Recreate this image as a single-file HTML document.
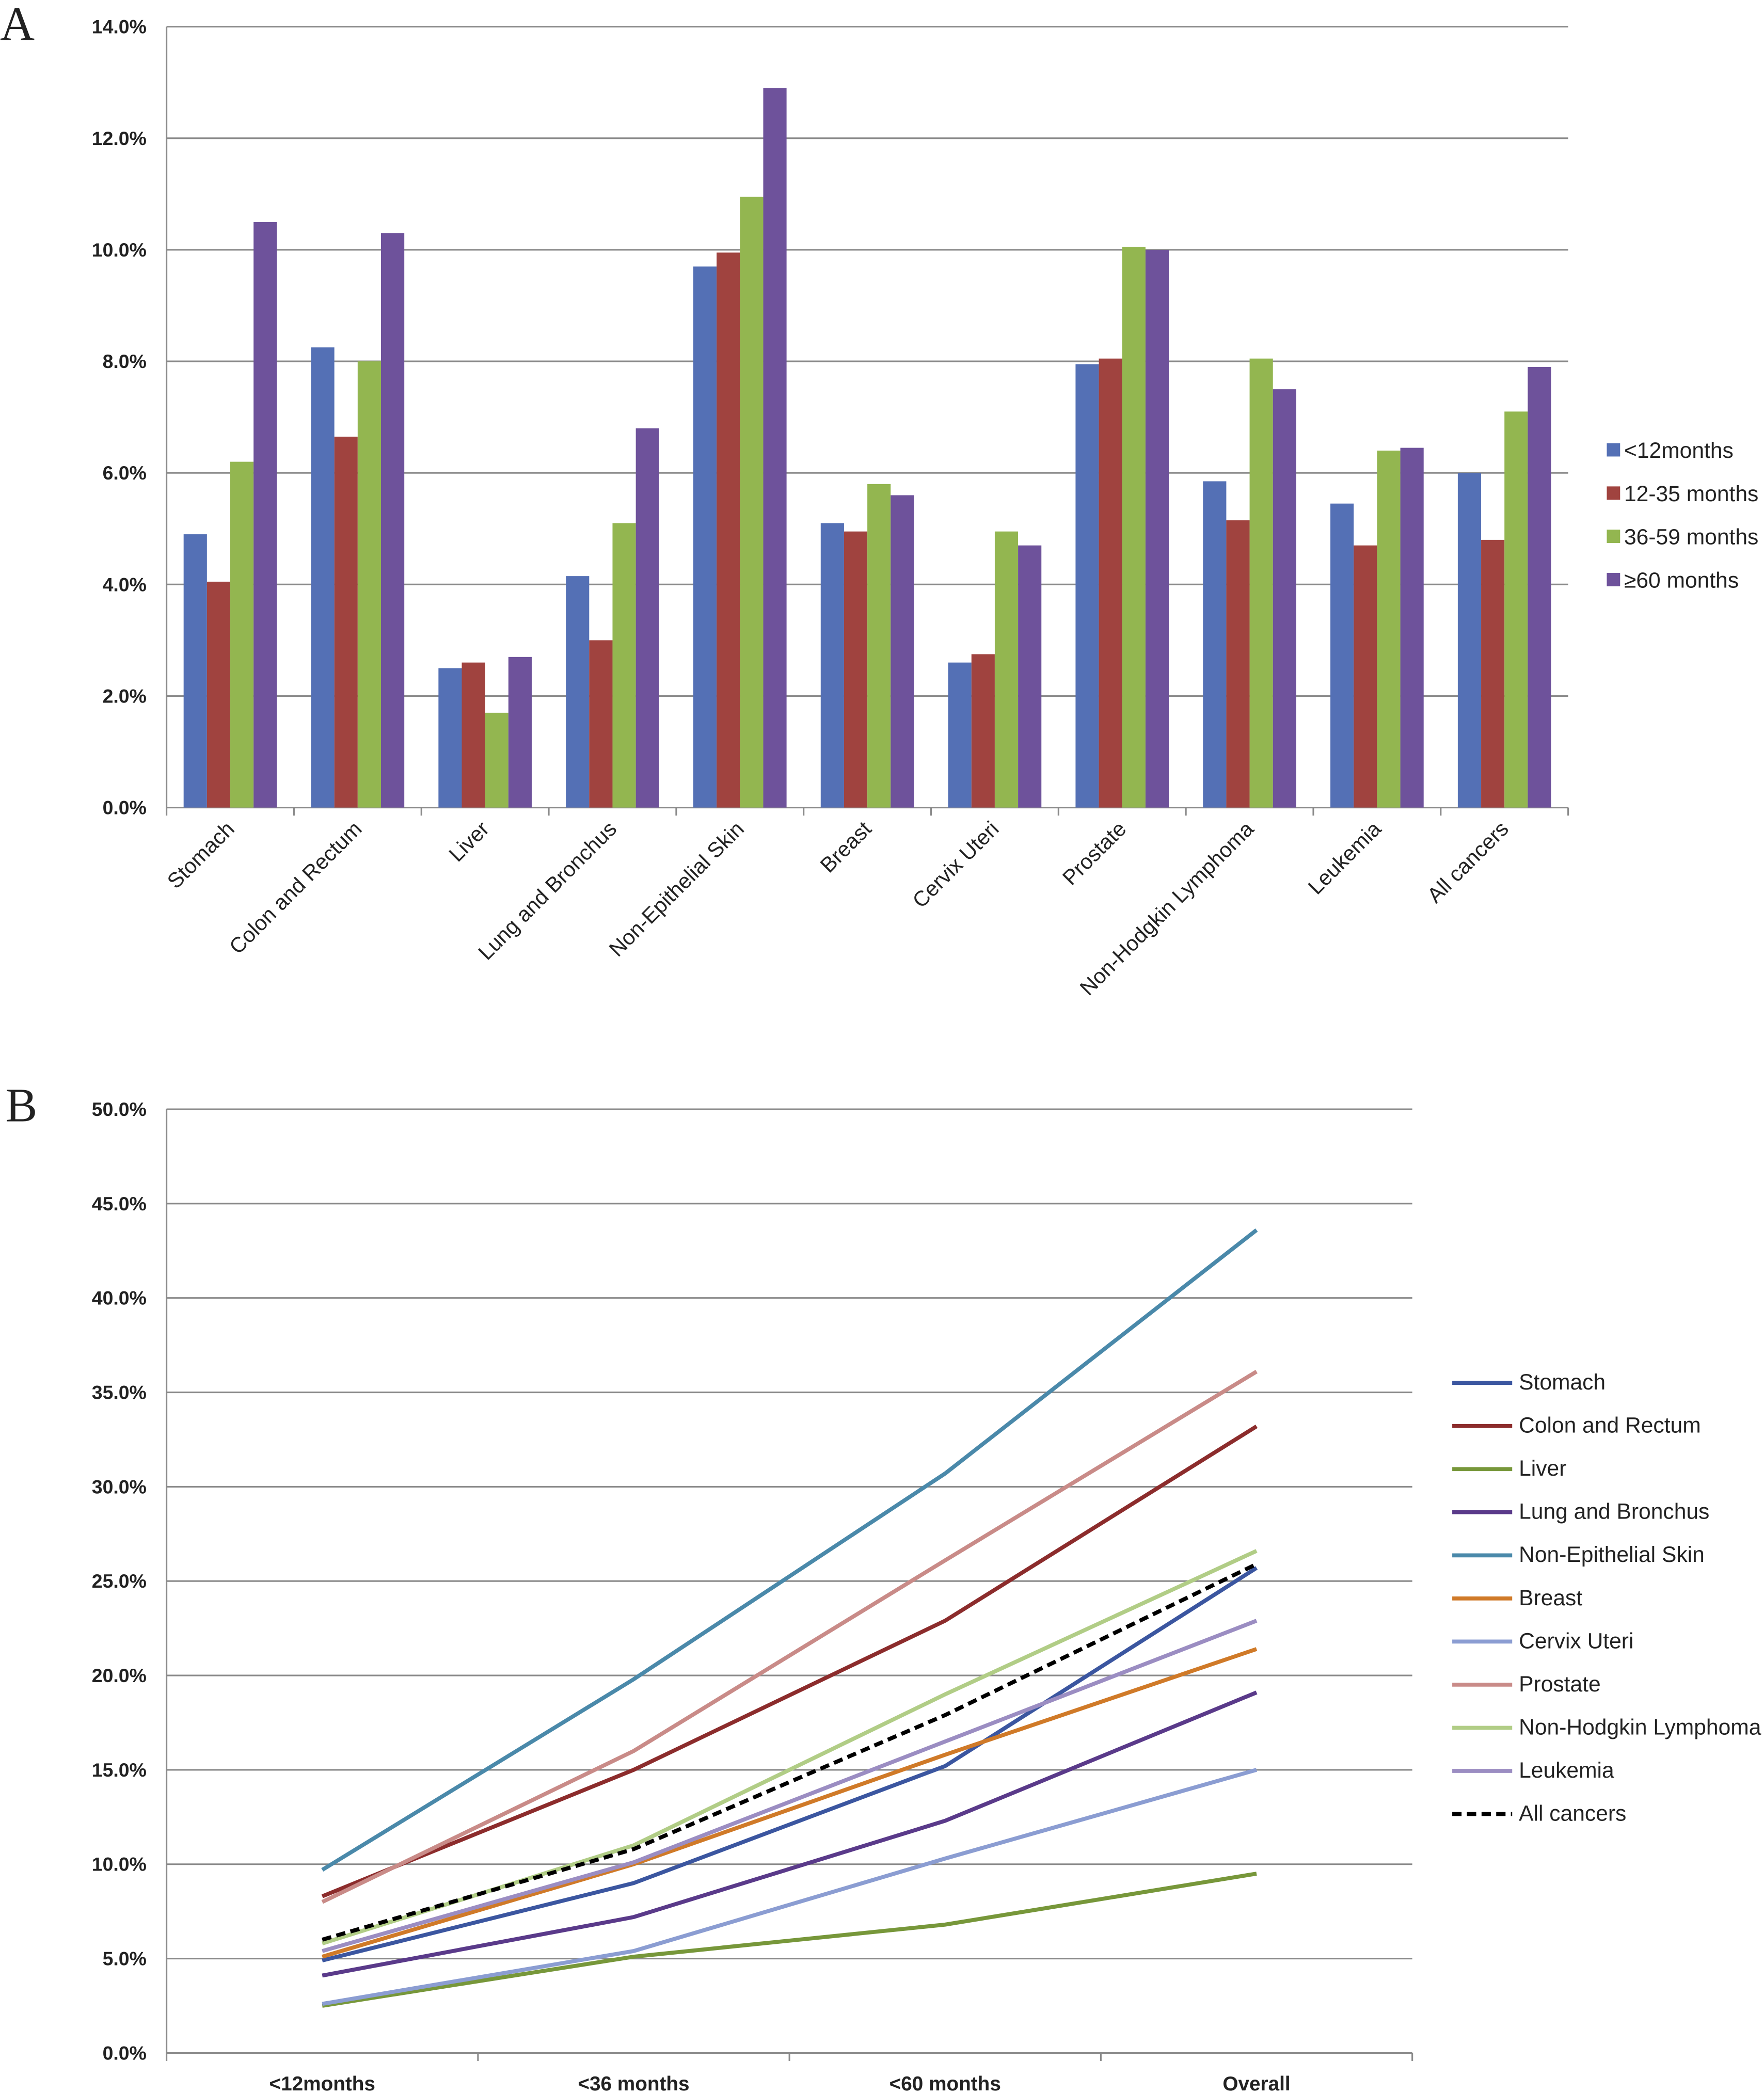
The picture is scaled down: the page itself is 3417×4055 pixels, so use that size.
<!DOCTYPE html>
<html><head><meta charset="utf-8"><style>
html,body{margin:0;padding:0;background:#fff;}
svg{display:block;}
text{font-family:"Liberation Sans",sans-serif;fill:#222;}
</style></head><body>
<svg id="root" width="3417" height="4055" viewBox="0 0 1324 1568" preserveAspectRatio="none" xmlns="http://www.w3.org/2000/svg">
<text x="0" y="30" style="font-family:'Liberation Serif',serif;font-size:36px">A</text>
<text x="4" y="840" style="font-family:'Liberation Serif',serif;font-size:36px">B</text>
<g id="chartA"></g>
<g id="chartB"></g>
</svg>
<script>
const NS="http://www.w3.org/2000/svg";
function mk(tag,attrs,parent,txt){const e=document.createElementNS(NS,tag);for(const k in attrs)e.setAttribute(k,attrs[k]);if(txt!==undefined)e.textContent=txt;parent.appendChild(e);return e;}

// Chart A data
const catsA=["Stomach","Colon and Rectum","Liver","Lung and Bronchus","Non-Epithelial Skin","Breast","Cervix Uteri","Prostate","Non-Hodgkin Lymphoma","Leukemia","All cancers"];
const seriesNamesA=["<12months","12-35 months","36-59 months","\u226560 months"];
const lt12=[4.9,8.25,2.5,4.15,9.7,5.1,2.6,7.95,5.85,5.45,6.0];
const m12_35=[4.05,6.65,2.6,3.0,9.95,4.95,2.75,8.05,5.15,4.7,4.8];
const m36_59=[6.2,8.0,1.7,5.1,10.95,5.8,4.95,10.05,8.05,6.4,7.1];
const ge60=[10.5,10.3,2.7,6.8,12.9,5.6,4.7,10.0,7.5,6.45,7.9];
const ticksA=[0,2,4,6,8,10,12,14];

// Chart B data
const catsB=["<12months","<36 months","<60 months","Overall"];
const namesB=["Stomach","Colon and Rectum","Liver","Lung and Bronchus","Non-Epithelial Skin","Breast","Cervix Uteri","Prostate","Non-Hodgkin Lymphoma","Leukemia","All cancers"];
const stomachB=[4.9,9.0,15.2,25.7];
const colonB=[8.3,15.0,22.9,33.2];
const liverB=[2.5,5.1,6.8,9.5];
const lungB=[4.1,7.2,12.3,19.1];
const skinB=[9.7,19.8,30.7,43.6];
const breastB=[5.1,10.0,15.8,21.4];
const cervixB=[2.6,5.4,10.3,15.0];
const prostateB=[8.0,16.0,26.1,36.1];
const nhlB=[5.8,11.0,19.0,26.6];
const leukB=[5.4,10.1,16.5,22.9];
const allB=[6.0,10.8,17.9,25.9];
const ticksB=[0,5,10,15,20,25,30,35,40,45,50];

// ---- Chart A ----
(function(){
const g=document.getElementById('chartA');
const x0=125,x1=1177,yb=605,yt=20,vmax=14;
const y=v=>yb-(v/vmax)*(yb-yt);
const cw=(x1-x0)/catsA.length;
const xc=i=>x0+cw*(i+0.5);
ticksA.forEach(t=>{
  const l=mk('line',{x1:x0,x2:x1,y1:y(t),y2:y(t),stroke:'#8a8a8a','stroke-width':1.2},g);
  
  
  const tx=mk('text',{x:110,y:y(t)+5,'text-anchor':'end','font-size':14.5,'font-weight':'bold'},g,t.toFixed(1)+'%');
  
  
});
mk('line',{x1:x0,x2:x0,y1:yt,y2:yb,stroke:'#8a8a8a','stroke-width':1.2},g);
for(let i=0;i<=catsA.length;i++){mk('line',{x1:x0+cw*i,x2:x0+cw*i,y1:yb,y2:yb+6,stroke:'#8a8a8a','stroke-width':1.2},g);}
const series=[lt12,m12_35,m36_59,ge60];
const cols=['#5470b5','#a0433f','#93b650','#6e529b'];
const bw=17.5;
series.forEach((s,k)=>{
  s.forEach((v,i)=>{
    const r=mk('rect',{x:xc(i)-2*bw+k*bw,y:y(v),width:bw,height:yb-y(v),fill:cols[k]},g);
    
    
  });
});
catsA.forEach((c,i)=>{
  const t=mk('text',{x:xc(i)+4,y:622,'text-anchor':'end','font-size':16,transform:`rotate(-45 ${xc(i)+4} 622)`},g,c);
  
  
});
seriesNamesA.forEach((n,k)=>{
  const yy=337+k*32.4;
  const r=mk('rect',{x:1206,y:yy-5,width:10,height:10,fill:cols[k]},g);
  
  
  const t=mk('text',{x:1219,y:yy+6,'font-size':16.5},g,n);
  
  
});
})();

// ---- Chart B ----
(function(){
const g=document.getElementById('chartB');
const x0=125,x1=1060,yb=1538,yt=831,vmax=50;
const y=v=>yb-(v/vmax)*(yb-yt);
const cw=(x1-x0)/catsB.length;
const xc=i=>x0+cw*(i+0.5);
ticksB.forEach(t=>{
  const l=mk('line',{x1:x0,x2:x1,y1:y(t),y2:y(t),stroke:'#8a8a8a','stroke-width':1.2},g);
  
  
  const tx=mk('text',{x:110,y:y(t)+5,'text-anchor':'end','font-size':14.5,'font-weight':'bold'},g,t.toFixed(1)+'%');
  
  
});
mk('line',{x1:x0,x2:x0,y1:yt,y2:yb,stroke:'#8a8a8a','stroke-width':1.2},g);
for(let i=0;i<=catsB.length;i++){mk('line',{x1:x0+cw*i,x2:x0+cw*i,y1:yb,y2:yb+6,stroke:'#8a8a8a','stroke-width':1.2},g);}
catsB.forEach((c,i)=>{
  const t=mk('text',{x:xc(i),y:1566,'text-anchor':'middle','font-size':15,'font-weight':'bold'},g,c);
  
  
});
const data=[stomachB,colonB,liverB,lungB,skinB,breastB,cervixB,prostateB,nhlB,leukB,allB];
const cols=['#3b56a0','#8c2c2c','#77973a','#5a3a8a','#4a89aa','#d07a28','#8b9dd2','#c98b88','#b1cd86','#9b8dc2','#000'];
data.forEach((s,k)=>{
  const pts=s.map((v,i)=>xc(i)+','+y(v)).join(' ');
  const attrs={points:pts,fill:'none',stroke:cols[k],'stroke-width':3};
  if(k===10){attrs['stroke-dasharray']='7,4';}
  const p=mk('polyline',attrs,g);
  
  
});
namesB.forEach((n,k)=>{
  const yy=1036+k*32.3;
  const l=mk('line',{x1:1090,x2:1135,y1:yy,y2:yy,stroke:cols[k],'stroke-width':3},g);
  if(k===10)l.setAttribute('stroke-dasharray','7,4');
  
  
  const t=mk('text',{x:1140,y:yy+5,'font-size':16.5},g,n);
  
  
});
})();
</script>
</body></html>
